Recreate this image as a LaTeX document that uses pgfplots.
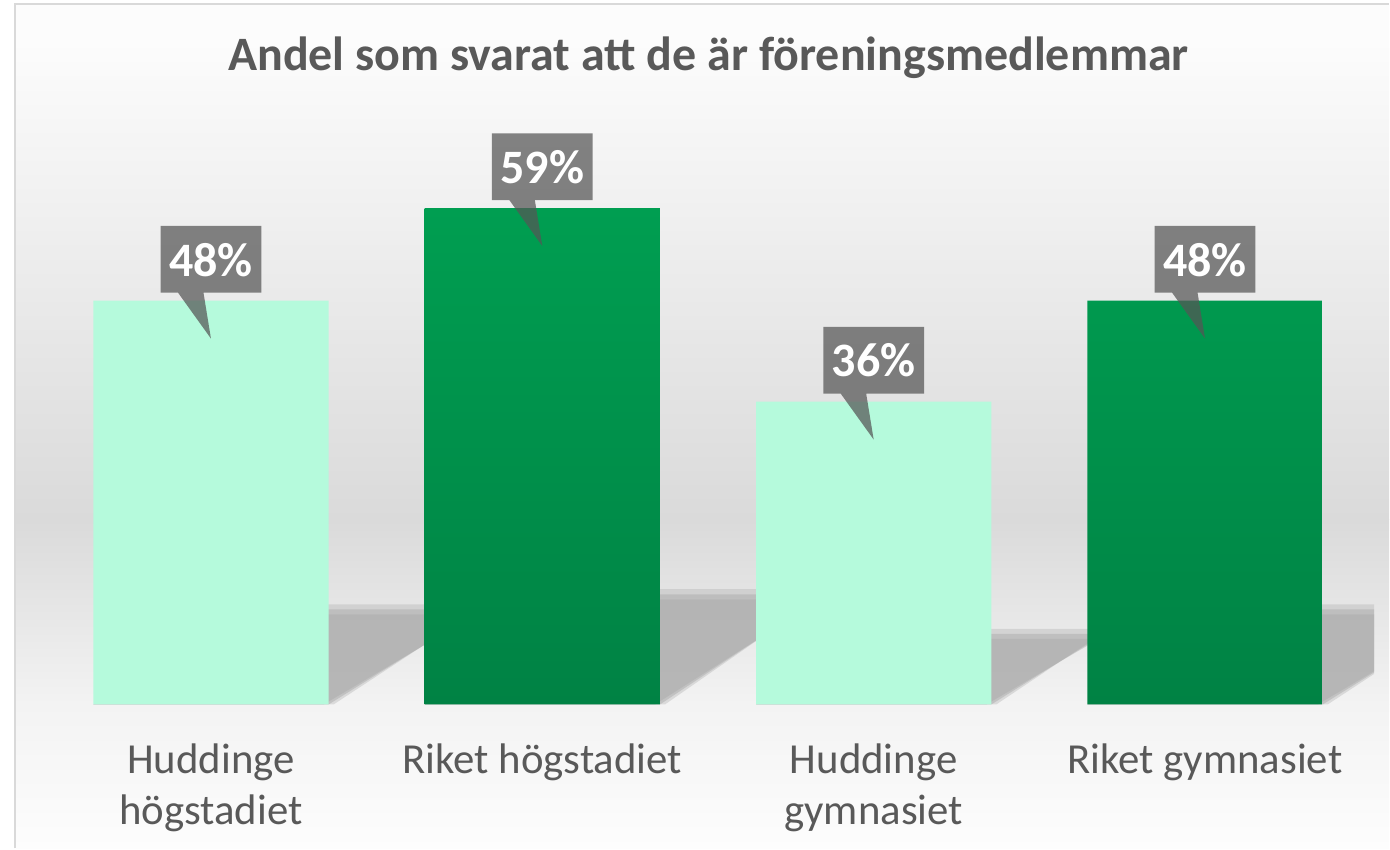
\documentclass[border=0pt]{standalone}
\usepackage{fontspec}
\setmainfont{Carlito}
\usepackage{pgfplots}
\pgfplotsset{compat=1.18}
\definecolor{mint}{RGB}{181,250,220}
\definecolor{gtop}{RGB}{0,158,81}
\definecolor{gbot}{RGB}{0,130,68}
\definecolor{shadowc}{RGB}{172,172,172}
\definecolor{txt}{RGB}{89,89,89}
\definecolor{callc}{RGB}{86,86,86}
\definecolor{framec}{RGB}{217,217,217}
\definecolor{bgmid}{RGB}{218,218,218}
\definecolor{bgtop}{RGB}{252,252,252}
\definecolor{bgfloor}{RGB}{243,243,243}
\definecolor{bgbot}{RGB}{253,253,253}
\begin{document}
\begin{tikzpicture}[x=1pt,y=1pt]
\fill[white] (0,0) rectangle (695,424.5);
\fill[bgtop] (8,422) rectangle (695,404);
\shade[top color=bgtop, bottom color=bgmid] (8,404.1) rectangle (695,164.5);
\shade[top color=bgmid, bottom color=bgfloor] (8,164.6) rectangle (695,72);
\shade[top color=bgfloor, bottom color=bgbot] (8,72.1) rectangle (695,0);
\draw[framec, line width=1pt] (7.5,0) -- (7.5,422.5) -- (695,422.5);
\node[anchor=base, text=txt, font=\fontsize{24}{28}\selectfont\bfseries] at (354.5,389) {Andel som svarat att de är föreningsmedlemmar};
\begin{axis}[
  at={(21pt,72pt)}, anchor=south west,
  scale only axis, width=666.5pt, height=286.28pt,
  xmin=-0.51, xmax=3.51, ymin=0, ymax=68,
  axis line style={draw=none},
  ytick=\empty, xtick={0,1,2,3},
  xticklabels={{\begin{tabular}[t]{@{}c@{}}Huddinge\\högstadiet\end{tabular}}, Riket högstadiet, {\begin{tabular}[t]{@{}c@{}}Huddinge\\gymnasiet\end{tabular}}, Riket gymnasiet},
  major tick length=0pt,
  xticklabel style={anchor=base, yshift=-34.5pt, text=txt, font=\fontsize{21.4}{25.5}\selectfont},
  bar width=0.71,
  callout/.style={
    nodes near coords={\relax},
    nodes near coords style={anchor=south, yshift=4pt, minimum width=50pt, minimum height=33pt, inner sep=0pt,
      append after command={\pgfextra{\let\cn=\tikzlastnode
        \fill[callc, fill opacity=0.73] (\cn.north west) -- (\cn.north east) -- (\cn.south east) -- ([xshift=-3.75pt]\cn.south) -- ([yshift=-23pt]\cn.south) -- ([xshift=-16.5pt]\cn.south) -- (\cn.south west) -- cycle;}}}
  },
  sA/.style={fill=shadowc, draw=none, fill opacity=0.35, forget plot},
  sB/.style={fill=shadowc, draw=none, fill opacity=0.5, forget plot},
]
% shadows (soft edges from three layers)
\addplot[sA] coordinates {(-0.355,0)(0.370,0)(0.830,11.9)(0.105,11.9)};
\addplot[sB] coordinates {(-0.355,0)(0.355,0)(0.815,11.3)(0.105,11.3)};
\addplot[sB] coordinates {(-0.355,0)(0.340,0)(0.800,10.7)(0.105,10.7)};
\addplot[sA] coordinates {(0.645,0)(1.370,0)(1.870,13.7)(1.145,13.7)};
\addplot[sB] coordinates {(0.645,0)(1.355,0)(1.855,13.1)(1.145,13.1)};
\addplot[sB] coordinates {(0.645,0)(1.340,0)(1.840,12.5)(1.145,12.5)};
\addplot[sA] coordinates {(1.645,0)(2.370,0)(2.710,9.0)(1.985,9.0)};
\addplot[sB] coordinates {(1.645,0)(2.355,0)(2.695,8.4)(1.985,8.4)};
\addplot[sB] coordinates {(1.645,0)(2.340,0)(2.680,7.8)(1.985,7.8)};
\addplot[sA] coordinates {(2.645,0)(3.370,0)(3.830,11.9)(3.105,11.9)};
\addplot[sB] coordinates {(2.645,0)(3.355,0)(3.815,11.3)(3.105,11.3)};
\addplot[sB] coordinates {(2.645,0)(3.340,0)(3.800,10.7)(3.105,10.7)};
% bars
\addplot[ybar, bar shift=0pt, draw=none, fill=mint] coordinates {(0,48) (2,36)};
\addplot[ybar, bar shift=0pt, draw=none, top color=gtop, bottom color=gbot] coordinates {(1,59) (3,48)};
% callout boxes
\addplot[ybar, bar shift=0pt, draw=none, fill=none, callout] coordinates {(0,48) (1,59) (2,36) (3,48)};
% labels
\addplot[ybar, bar shift=0pt, draw=none, fill=none,
  nodes near coords={\pgfmathprintnumber[assume math mode=true]{\pgfplotspointmeta}\%},
  nodes near coords style={anchor=center, yshift=20.5pt, text=white, font=\fontsize{24}{28}\selectfont\bfseries}]
  coordinates {(0,48) (1,59) (2,36) (3,48)};
\end{axis}
\end{tikzpicture}
\end{document}
